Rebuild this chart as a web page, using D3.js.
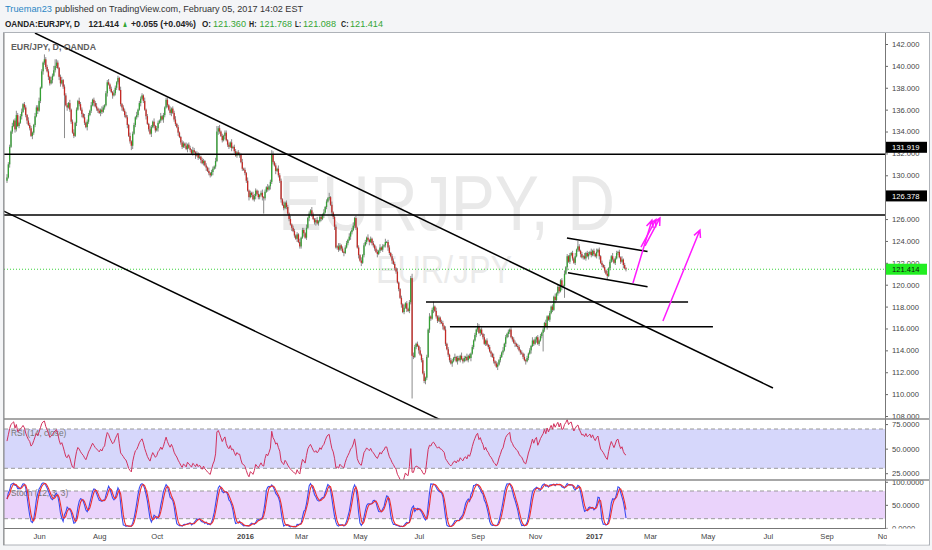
<!DOCTYPE html>
<html><head><meta charset="utf-8">
<script src="https://cdn.jsdelivr.net/npm/d3@7"></script>
<style>
html,body{margin:0;padding:0;background:#f4f5f7;}
svg{display:block;font-family:"Liberation Sans",Arial,sans-serif;}
</style></head><body>
<svg id="c" width="932" height="550"></svg>
<script>
// ---------------- DATA ----------------
const startDate = "2015-04-28";
const firstOpen = 129.5;
const closes = [
129.8,131.0,132.6,134.0,134.5,135.0,134.2,135.5,134.5,134.8,
135.4,135.8,136.5,136.2,135.5,135.0,134.6,134.3,133.6,133.9,
134.6,135.4,136.2,135.9,136.8,138.0,139.5,140.3,140.6,139.9,
139.5,139.0,138.4,138.7,139.1,139.6,140.0,140.3,139.8,139.0,
138.4,138.7,138.1,137.3,136.4,136.2,136.6,136.0,134.9,133.9,
133.6,134.8,136.0,136.8,136.5,136.0,135.6,135.3,134.8,134.4,
134.9,135.5,135.9,136.4,136.9,136.6,136.3,136.1,135.9,135.7,
136.0,135.8,136.2,136.4,137.5,138.5,138.3,137.9,137.6,137.3,
137.5,138.0,138.5,138.9,137.8,136.5,136.2,135.9,135.5,135.3,
134.6,133.6,133.1,132.7,133.8,134.6,135.3,135.5,136.0,136.6,
137.0,137.3,136.8,136.0,135.4,134.7,134.2,133.8,134.4,134.9,
134.5,134.1,134.3,134.8,135.0,135.4,135.1,135.5,136.2,136.9,
136.4,136.0,135.7,136.1,135.7,135.1,134.7,134.4,133.9,133.5,
133.0,132.6,132.9,132.7,132.4,132.8,132.5,132.3,132.0,132.3,
132.1,131.8,132.0,131.6,131.7,131.4,131.1,131.3,130.9,130.7,
130.4,130.2,130.0,130.3,130.6,130.8,131.3,134.0,134.3,134.0,
133.6,133.2,133.6,133.9,133.2,132.8,132.6,133.0,132.5,132.6,
132.2,131.8,132.1,131.9,131.9,131.2,130.6,130.5,130.2,129.5,
128.6,128.0,128.4,128.2,127.8,128.1,128.6,128.3,128.0,128.2,
128.4,128.0,127.9,128.5,128.9,128.7,129.0,129.4,131.9,131.2,
130.9,130.4,130.6,130.0,129.5,127.8,127.3,127.0,127.5,127.1,
126.5,126.0,125.5,125.2,124.9,124.5,124.2,124.6,123.9,123.5,
124.3,125.0,124.7,124.3,125.2,126.1,126.5,126.8,126.4,126.0,
125.7,125.9,125.6,125.8,126.2,126.0,126.4,126.6,127.1,127.6,
127.9,128.0,127.3,126.6,126.2,125.3,123.4,123.5,123.2,123.6,
123.3,123.0,122.9,123.4,123.8,124.1,124.4,124.8,125.0,125.4,
126.1,125.2,123.4,122.7,122.2,122.0,122.7,123.6,123.9,124.3,
124.1,123.9,124.2,123.8,123.6,123.3,123.0,122.8,123.1,123.4,
123.2,123.5,123.6,123.9,123.9,123.4,122.9,122.6,122.2,121.9,
121.5,121.2,120.2,119.6,118.8,118.2,117.5,117.9,118.3,117.8,
117.6,118.4,120.6,113.5,113.4,114.3,114.6,114.4,114.0,113.6,
113.1,111.9,111.2,111.5,113.4,115.9,117.1,116.9,117.7,118.0,
117.6,117.1,116.7,117.0,116.6,116.5,116.2,115.9,114.6,114.1,
113.6,113.1,112.8,113.0,113.3,113.4,113.0,113.3,113.1,113.5,
113.2,113.0,113.3,113.4,113.1,113.5,113.3,113.7,114.3,114.9,
115.4,115.9,116.2,115.6,115.9,115.5,115.2,114.6,114.9,114.5,
114.3,113.9,113.7,113.4,113.0,112.8,112.5,112.7,113.1,113.4,
113.8,114.0,114.6,115.2,115.5,115.7,115.9,115.2,115.0,114.7,
114.6,114.4,114.3,114.0,113.8,113.7,113.4,113.1,113.0,113.3,
113.7,114.0,114.4,114.9,114.6,115.0,115.2,114.6,114.9,115.3,
115.6,115.9,116.5,116.2,117.1,116.8,117.4,118.0,117.7,118.9,
118.6,119.2,119.8,119.4,120.4,119.8,119.9,121.0,121.6,122.6,
122.1,122.7,122.9,122.4,122.0,122.6,123.2,123.5,123.1,122.8,
122.5,122.6,122.4,122.9,122.6,122.8,123.0,122.7,123.1,122.8,
122.6,123.0,123.2,122.6,122.0,121.8,121.6,121.3,121.0,120.8,
121.5,122.1,122.6,122.3,122.0,122.4,122.9,123.0,122.5,122.1,
122.3,121.8,121.5,121.414];
// upper / lower shadow lengths per bar, in tenths of a yen
const upWick =
"3221312421231221322113223121322213241321231222131231213221312213122312132122312132121312232131221312"+
"2213121321312213121221312231211221312213212131221213122131231212212131221221312131213221312312131223"+
"1213221312213122121312213121321231221312121312213212122131231212131221312121221312131221222131"+
"12131212213212131221213122131212213121221312213121312121213212131212113122121312121312212212131212"+
"1312121212131121213122121312121213122121312213121312121213121312212131212213121";
const dnWick =
"2131213212131223121322131213221321312213312213122121312131213212131221321213121312221231213121312"+
"2213121312131221312132121231221312212131212131213121312213121321213122131212131212213121231221312"+
"1213221312231212121312131221312131212312121312121323122121311213212213131212131222131212121321312"+
"2121312131221212131212121321312212131212213121312121312131212213121212131221312121313212131212121"+
"3121312131212121312121312213121312121212131212131212121312121312121212121312213121212131312212131";
// individually read extreme highs / lows  {bar: [high, low]}
const specialHL = {28:[141.05,null],36:[140.6,null],43:[null,133.4],93:[null,132.3],157:[134.5,null],
  192:[null,126.5],198:[132.3,null],241:[128.4,null],303:[121.0,109.6],313:[null,110.9],319:[118.45,null],
  401:[null,113.9],417:[null,118.8],427:[124.0,null],449:[null,120.5]};
// RSI averages carried in from the bars before the visible window
const rsiSeed = {avgGain:0.30, avgLoss:0.22};

const priceTicks = [108,110,112,114,116,118,120,122,124,126,128,130,132,134,136,138,140,142];
const hiddenPriceTicks = [128];   // covered by the 126.378 marker in the reference
const rsiTicks = [25,50,75];
const stochTicks = [0,50,100];
const timeTickLabels = ["Jun","Aug","Oct","2016","Mar","May","Jul","Sep","Nov","2017","Mar","May","Jul","Sep","Nov"];
const timeTickDates = ["2015-06-01","2015-08-03","2015-10-01","2016-01-01","2016-03-01","2016-05-02","2016-07-01",
  "2016-09-01","2016-11-01","2017-01-02","2017-03-01","2017-05-01","2017-07-03","2017-09-01","2017-11-01"];

// drawing tools: [barIndex, price]
const trendLines = [
  [[20.9,143.0],[572.9,110.56]],
  [[-4,126.82],[330,107.31]],
  [[-4,131.919],[660,131.919]],
  [[-4,126.378],[660,126.378]],
  [[313.4,118.42],[509.4,118.42]],
  [[331.3,116.16],[528.0,116.16]],
  [[418.8,124.27],[479.1,123.03]],
  [[419.6,121.10],[479.1,119.82]]
];
const arrows = [
  [[468.2,120.15],[482.4,125.91]],
  [[474.2,123.44],[485.4,125.96]],
  [[477.2,123.54],[488.4,126.10]],
  [[490.6,116.68],[518.3,125.00]]
];
const markedLevels = [131.919,126.378];
const lastPrice = 121.414;

// ---------------- LAYOUT ----------------
const L=4, R=885, FR=929, TOP=33, MB=419, RB=480, SB=528, AB=545;
const markerShift = [-7,-19];  // where the reference places the two black price tags
const svg = d3.select("#c");

function parse(s){const [y,m,d]=s.split("-").map(Number);return new Date(Date.UTC(y,m-1,d));}
const idxOf = {};
{ let k=0; for(let d=parse(startDate); d<=parse("2017-12-31"); d=new Date(d.getTime()+864e5)){
    const wd=d.getUTCDay(); if(wd===0||wd===6) continue; idxOf[d.toISOString().slice(0,10)]=k++; } }

const x = d3.scaleLinear().domain([-2.24,656.7]).range([L,R]);
const yP = d3.scaleLinear().domain([108,142]).range([416,44]);
const yR = d3.scaleLinear().domain([30,70]).range([468.3,429]);
const yS = d3.scaleLinear().domain([20,80]).range([518.7,491]);

const bars = closes.map((c,i)=>{
  const o = i ? closes[i-1] : firstOpen;
  const uw = +upWick[i]; const dw = +dnWick[i];
  let h = Math.max(o,c) + (isNaN(uw)?2:uw)/10;
  let l = Math.min(o,c) - (isNaN(dw)?2:dw)/10;
  const s = specialHL[i];
  if(s){ if(s[0]!=null) h=s[0]; if(s[1]!=null) l=s[1]; }
  return {i,o,h,l,c};
});

// RSI 14 (Wilder)
const rsi=[]; { let ag=rsiSeed.avgGain, al=rsiSeed.avgLoss;
  rsi.push([0, 100-100/(1+ag/al)]);
  for(let i=1;i<closes.length;i++){
    const ch=closes[i]-closes[i-1];
    ag=(ag*13+Math.max(ch,0))/14; al=(al*13+Math.max(-ch,0))/14;
    rsi.push([i, al===0?100:100-100/(1+ag/al)]);
  } }
// Stoch 12,3,3
const raw = bars.map((b,i)=>{ const w=bars.slice(Math.max(0,i-11),i+1);
  const hh=d3.max(w,d=>d.h), ll=d3.min(w,d=>d.l); return hh===ll?50:100*(b.c-ll)/(hh-ll); });
const sma=(arr,n)=>arr.map((v,i)=>d3.mean(arr.slice(Math.max(0,i-n+1),i+1)));
const kS = sma(raw,3), dS = sma(kS,3);

// ---------------- HEADER ----------------
function fitText(g,x0,y0,w,str,fill,weight,size){
  return g.append("text").attr("x",x0).attr("y",y0).attr("font-size",size||9.4).attr("fill",fill)
    .attr("font-weight",weight||"normal").attr("textLength",w).attr("lengthAdjust","spacingAndGlyphs").text(str);
}
fitText(svg,5,12,47,"Trueman23","#2b86c5");
fitText(svg,55,12,248,"published on TradingView.com, February 05, 2017 14:02 EST","#333");
const G="#35a535";
[[5,75,"OANDA:EURJPY, D","#222","bold"],[88.5,30.5,"121.414","#222","bold"],[122,6,"▲",G,"normal"],
 [131,65,"+0.055 (+0.04%)","#222","bold"],[202,9,"O:","#222","bold"],[213,33,"121.360",G,"normal"],
 [249,7.5,"H:","#222","bold"],[259.5,32.5,"121.768",G,"normal"],[295,6,"L:","#222","bold"],
 [303,33,"121.088",G,"normal"],[341,7.5,"C:","#222","bold"],[350,33,"121.414",G,"normal"]]
 .forEach(([x0,w,t,c,wt])=>fitText(svg,x0,27,w,t,c,wt));

// ---------------- FRAME ----------------
svg.append("rect").attr("x",3.5).attr("y",32.5).attr("width",FR-3).attr("height",AB-32.5)
  .attr("fill","#fff").attr("stroke","#aeb2b8");

const defs = svg.append("defs");
function clip(id,x0,y0,x1,y1){ defs.append("clipPath").attr("id",id).append("rect")
  .attr("x",x0).attr("y",y0).attr("width",x1-x0).attr("height",y1-y0); return `url(#${id})`; }
const cMain=clip("cm",L,TOP,R,MB), cRsi=clip("cr",L,MB,R,RB), cSto=clip("cs",L,RB,R,SB), cTime=clip("ct",L,SB,887,AB);

// watermark
const gM = svg.append("g").attr("clip-path",cMain);
gM.append("text").attr("x",278).attr("y",230).attr("font-size",78).attr("fill","#e9e9e9")
  .attr("textLength",337).attr("lengthAdjust","spacingAndGlyphs").text("EURJPY, D");
gM.append("text").attr("x",376).attr("y",283).attr("font-size",38).attr("fill","#ebebeb")
  .attr("textLength",136).attr("lengthAdjust","spacingAndGlyphs").text("EUR/JPY");
fitText(svg,11,50,85,"EUR/JPY, D, OANDA","#606060","bold",8.6);

gM.append("line").attr("x1",L).attr("x2",R).attr("y1",yP(lastPrice)).attr("y2",yP(lastPrice))
  .attr("stroke","#39d339").attr("stroke-width",1).attr("stroke-dasharray","1,2");

// candles
const gC = gM.append("g");
gC.selectAll("line.w").data(bars).join("line").attr("class","w")
  .attr("x1",d=>x(d.i)).attr("x2",d=>x(d.i)).attr("y1",d=>yP(d.h)).attr("y2",d=>yP(d.l))
  .attr("stroke","#8c8c8c").attr("stroke-width",1);
gC.selectAll("rect").data(bars).join("rect")
  .attr("x",d=>x(d.i)-0.65).attr("width",1.3)
  .attr("y",d=>yP(Math.max(d.o,d.c)))
  .attr("height",d=>Math.max(0.9,Math.abs(yP(d.o)-yP(d.c))))
  .attr("fill",d=>d.c>=d.o?"#34a034":"#c42a26");

// drawings
gM.selectAll("line.t").data(trendLines).join("line").attr("class","t")
  .attr("x1",d=>x(d[0][0])).attr("y1",d=>yP(d[0][1])).attr("x2",d=>x(d[1][0])).attr("y2",d=>yP(d[1][1]))
  .attr("stroke","#000").attr("stroke-width",1.5);
arrows.forEach(a=>{
  const x1=x(a[0][0]),y1=yP(a[0][1]),x2=x(a[1][0]),y2=yP(a[1][1]);
  const ang=Math.atan2(y2-y1,x2-x1), len=8, sp=0.45;
  const p=d3.path(); p.moveTo(x1,y1); p.lineTo(x2,y2);
  p.moveTo(x2-len*Math.cos(ang-sp),y2-len*Math.sin(ang-sp)); p.lineTo(x2,y2);
  p.lineTo(x2-len*Math.cos(ang+sp),y2-len*Math.sin(ang+sp));
  gM.append("path").attr("d",p.toString()).attr("fill","none").attr("stroke","#ff1aff").attr("stroke-width",1.5);
});

// ---------------- RSI ----------------
const gR = svg.append("g").attr("clip-path",cRsi);
gR.append("rect").attr("x",L).attr("width",R-L).attr("y",yR(70)).attr("height",yR(30)-yR(70)).attr("fill","#d6d7fb");
[70,30].forEach(v=>gR.append("line").attr("x1",L).attr("x2",R).attr("y1",yR(v)).attr("y2",yR(v))
  .attr("stroke","#999").attr("stroke-dasharray","4,3"));
gR.append("text").attr("x",11).attr("y",435.5).attr("font-size",8.4).attr("fill","#777").text("RSI (14, close)");
gR.append("path").datum(rsi).attr("fill","none").attr("stroke","#d2325e").attr("stroke-width",1)
  .attr("d",d3.line().x(d=>x(d[0])).y(d=>yR(d[1])));

// ---------------- STOCH ----------------
const gS = svg.append("g").attr("clip-path",cSto);
gS.append("rect").attr("x",L).attr("width",R-L).attr("y",yS(80)).attr("height",yS(20)-yS(80)).attr("fill","#ead3fb");
[80,20].forEach(v=>gS.append("line").attr("x1",L).attr("x2",R).attr("y1",yS(v)).attr("y2",yS(v))
  .attr("stroke","#999").attr("stroke-dasharray","4,3"));
gS.append("text").attr("x",11).attr("y",496).attr("font-size",8.4).attr("fill","#777").text("Stoch (12, 3, 3)");
gS.append("path").datum(kS).attr("fill","none").attr("stroke","#3b4cf0").attr("stroke-width",1.1)
  .attr("d",d3.line().x((d,i)=>x(i)).y(d=>yS(d)));
gS.append("path").datum(dS).attr("fill","none").attr("stroke","#ee3030").attr("stroke-width",1.1)
  .attr("d",d3.line().x((d,i)=>x(i)).y(d=>yS(d)));

// ---------------- AXES ----------------
function styleAxis(g){ g.selectAll("path.domain").remove(); g.selectAll("line").attr("stroke","#666");
  g.selectAll("text").attr("fill","#444").attr("font-size",7.6); }
const axP = svg.append("g").attr("transform",`translate(${R},0)`)
  .call(d3.axisRight(yP).tickValues(priceTicks)
    .tickFormat(d=>hiddenPriceTicks.includes(d)?"":d3.format(".3f")(d)).tickSize(3).tickPadding(4));
styleAxis(axP);
const axR = svg.append("g").attr("transform",`translate(${R},0)`)
  .call(d3.axisRight(yR).tickValues(rsiTicks).tickFormat(d3.format(".4f")).tickSize(3).tickPadding(4));
styleAxis(axR);
const axS = svg.append("g").attr("transform",`translate(${R},0)`)
  .call(d3.axisRight(yS).tickValues(stochTicks).tickFormat(d3.format(".4f")).tickSize(3).tickPadding(4));
styleAxis(axS);
svg.append("rect").attr("x",R+1).attr("y",SB+0.5).attr("width",FR-R-1.5).attr("height",AB-SB-1).attr("fill","#fff");

// price marker boxes
markedLevels.forEach((v,k)=>{
  const yc = yP(v)+markerShift[k];
  svg.append("rect").attr("x",R+1).attr("y",yc-5.5).attr("width",41).attr("height",11).attr("fill","#000");
  svg.append("text").attr("x",R+7).attr("y",yc+2.8).attr("font-size",7.6).attr("fill","#fff").text(d3.format(".3f")(v));
});
svg.append("rect").attr("x",R+1).attr("y",yP(lastPrice)-5.5).attr("width",41).attr("height",11).attr("fill","#22ee22");
svg.append("text").attr("x",R+7).attr("y",yP(lastPrice)+2.8).attr("font-size",7.6).attr("fill","#111").text(d3.format(".3f")(lastPrice));

// time axis
const tIdx = timeTickDates.map(d=>idxOf[d]);
const axT = svg.append("g").attr("clip-path",cTime).append("g").attr("transform",`translate(0,${SB})`)
  .call(d3.axisBottom(x).tickValues(tIdx).tickFormat((d,k)=>timeTickLabels[k]).tickSize(0).tickPadding(6));
axT.selectAll("path.domain").remove();
axT.selectAll("text").attr("fill","#444").attr("font-size",7.6)
  .attr("font-weight",(d,k)=>/^\d{4}$/.test(timeTickLabels[k])?"bold":"normal");

// separators and axis lines
svg.append("line").attr("x1",R+0.5).attr("x2",R+0.5).attr("y1",TOP).attr("y2",SB).attr("stroke","#777");
[MB,RB].forEach(y=>svg.append("line").attr("x1",L).attr("x2",FR).attr("y1",y).attr("y2",y).attr("stroke","#8a8a8a").attr("stroke-width",1.6));
svg.append("line").attr("x1",L).attr("x2",R).attr("y1",SB+0.5).attr("y2",SB+0.5).attr("stroke","#777");
svg.append("line").attr("x1",L).attr("x2",L).attr("y1",TOP).attr("y2",AB).attr("stroke","#888");
</script>
</body></html>
